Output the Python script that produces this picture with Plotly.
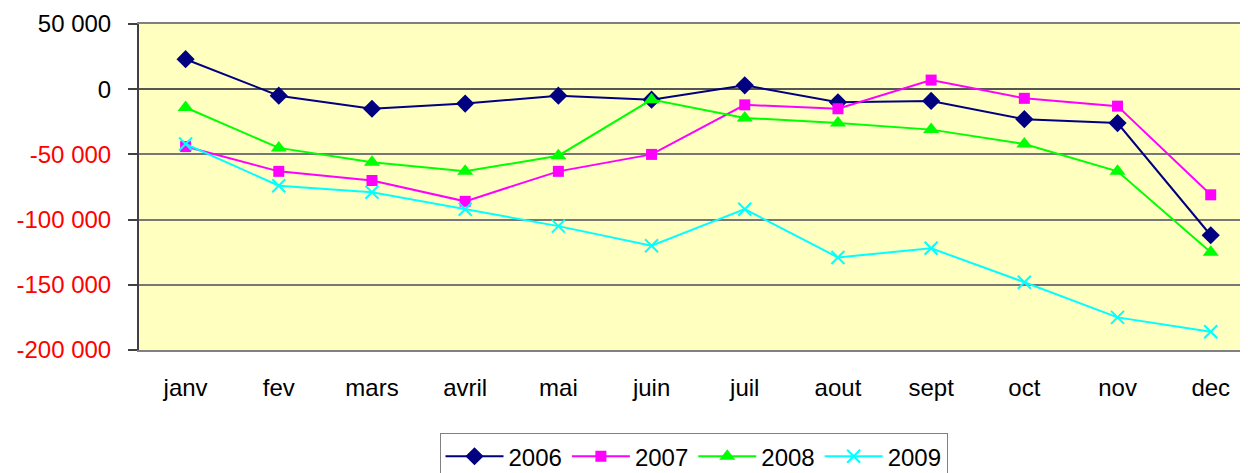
import plotly.graph_objects as go

months = ["janv", "fev", "mars", "avril", "mai", "juin", "juil", "aout", "sept", "oct", "nov", "dec"]
y2006 = [23000, -5000, -15000, -11000, -5000, -8000, 3000, -10000, -9000, -23000, -26000, -112000]
y2007 = [-44000, -63000, -70000, -86000, -63000, -50000, -12000, -15000, 7000, -7000, -13000, -81000]
y2008 = [-14000, -45000, -56000, -63000, -51000, -8000, -22000, -26000, -31000, -42000, -63000, -125000]
y2009 = [-42000, -74000, -79000, -92000, -105000, -120000, -92000, -129000, -122000, -148000, -175000, -186000]

ytickvals = [50000, 0, -50000, -100000, -150000, -200000]
yticktext = ["50 000", "0", "-50 000", "-100 000", "-150 000", "-200 000"]

series = [
    ("2006", y2006, "#000080", dict(symbol="diamond", size=14, color="#000080")),
    ("2007", y2007, "#FF00FF", dict(symbol="square", size=11, color="#FF00FF")),
    ("2008", y2008, "#00FF00", dict(symbol="triangle-up", size=14, color="#00FF00")),
    ("2009", y2009, "#00FFFF", dict(symbol="x-thin", size=13, color="#00FFFF",
                                    line=dict(color="#00FFFF", width=2))),
]

xs = list(range(len(months)))
fig = go.Figure()
for name, vals, col, mk in series:
    fig.add_trace(go.Scatter(x=xs, y=vals, name=name, mode="lines+markers",
                             line=dict(color=col, width=2), marker=mk))

ymin, ymax = -200000, 50000
zero_frac = (0 - ymin) / (ymax - ymin)

ticktext_col = []
for v, t in zip(ytickvals, yticktext):
    if v < 0:
        ticktext_col.append(f"<span style='color:#FF0000'>{t}</span>")
    else:
        ticktext_col.append(t)

fig.update_layout(
    width=1240, height=465,
    margin=dict(l=131, r=0, t=16, b=123, autoexpand=False),
    paper_bgcolor="white",
    plot_bgcolor="#FFFFC0",
    font=dict(family="Liberation Sans, Arial, sans-serif", size=24, color="black"),
    showlegend=True,
    legend=dict(orientation="h", x=0.5, xanchor="center", y=-0.255, yanchor="top",
                bordercolor="#808080", borderwidth=1, bgcolor="white",
                font=dict(size=24), tracegroupgap=0, itemwidth=58),
    xaxis=dict(
        range=[-0.5, 11.4], tickmode="array", tickvals=xs, ticktext=months,
        showgrid=False, zeroline=False, ticks="", ticklabelstandoff=15,
        showline=True, mirror=True, linecolor="#808080", linewidth=2,
    ),
    xaxis2=dict(
        overlaying="x", range=[-0.5, 11.4], anchor="free", position=zero_frac,
        side="bottom", tickmode="array", tickvals=[i + 0.5 for i in range(11)],
        ticks="outside", ticklen=8, tickwidth=1.5, tickcolor="#404040",
        showticklabels=False, showgrid=False, zeroline=False, showline=False,
    ),
    yaxis=dict(
        range=[ymin, ymax], tickmode="array", tickvals=ytickvals, ticktext=ticktext_col,
        showgrid=True, gridcolor="#777777", gridwidth=1.5,
        zeroline=True, zerolinecolor="#555555", zerolinewidth=1.5,
        showline=True, linecolor="#404040", linewidth=2,
        ticks="outside", ticklen=9, tickwidth=1.5, tickcolor="#404040",
        ticklabelstandoff=12,
    ),
)

fig.write_html("out.html")
